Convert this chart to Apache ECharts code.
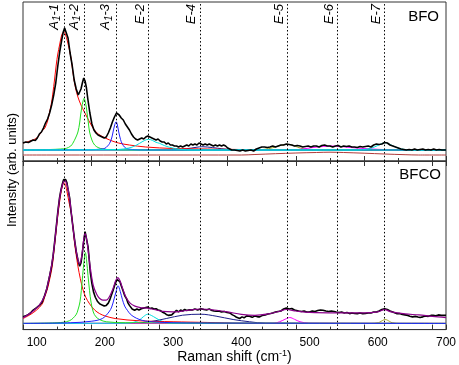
<!DOCTYPE html>
<html>
<head>
<meta charset="utf-8">
<script src="https://cdn.jsdelivr.net/npm/echarts@6/dist/echarts.min.js"></script>
<style>html,body{margin:0;padding:0;background:#fff}#c{width:459px;height:365px}</style>
</head>
<body>
<div id="c"></div>
<script>
// ---- x-axis ticks & mode positions ----
const xTicks = [100, 200, 300, 400, 500, 600, 700];
const modePositions = [141, 170, 216, 264, 340, 468, 541, 610];
const modeLabels = ['A{s|1}-1', 'A{s|1}-2', 'A{s|1}-3', 'E-2', 'E-4', 'E-5', 'E-6', 'E-7'];
const panelNames = ['BFO', 'BFCO'];

// ---- BFO (top panel) ----
const bfoSpectrum = [[80,18],[84,19],[88,18.5],[92,20],[95,21],[98,20.5],[101,23],[104,27],[107,29],[110,33],[113,38],[116,42],[119,48],[122,56],[125,66],[128,78],[131,95],[134,110],[137,122],[139,129],[141,133],[143,131],[146,123],[149,108],[152,96],[155,81],[158,72],[161,66],[163,67],[165,72],[167,78],[169,83],[171,80],[173,73],[175,62],[178,48],[181,37],[184,31],[187,28],[190,26],[193,25],[196,24],[199,23],[202,24],[205,28],[208,33],[211,39],[214,44],[217,48],[219,48],[221,46],[224,43],[227,41],[230,37],[233,34],[236,31],[239,27],[242,24],[245,22],[248,21],[251,22],[254,23],[257,22],[260,24],[263,25],[266,24],[269,23],[272,22],[275,21],[278,22],[281,20],[284,19],[287,19],[290,17],[293,18],[296,16],[299,16],[302,15],[305,15],[308,14],[311,15],[314,14],[317,15],[320,16],[323,15],[326,17],[329,16],[332,17],[335,16],[338,18],[341,17],[344,16],[347,17],[350,16],[353,17],[356,16],[359,15],[362,16],[365,15],[368,16],[371,15],[374,16],[377,15],[380,13],[383,12],[386,11],[390,11],[394,10.5],[398,10],[402,11],[406,10],[410,10.5],[414,11],[418,10],[422,12],[426,13],[430,14],[434,14],[438,13.5],[442,14],[446,15],[450,14],[454,15],[458,16],[462,16],[466,17],[470,16.5],[474,16],[478,15],[482,15.5],[486,15],[490,14],[494,14.5],[498,15],[502,14],[506,15],[510,15],[514,14],[518,15.5],[522,16],[526,15],[530,15],[534,14],[538,15],[542,15.5],[546,14],[550,15],[554,14.5],[558,15],[562,14],[566,14],[570,13.5],[574,14.5],[578,14],[582,14.5],[586,15],[590,14],[594,16],[598,17],[602,16.5],[606,17],[610,18.5],[614,18],[618,16],[622,15],[626,14],[630,13],[634,12],[638,11.5],[642,11],[646,11.5],[650,11],[654,12],[658,11],[662,11.5],[666,12],[670,11],[674,11.5],[678,11],[682,12],[686,11],[690,11.5],[694,11],[698,11],[700,11]];
const bfoRed = [[80,18],[90,20],[100,23],[108,30],[112,33],[116,40],[119,49],[122,59],[124,69],[126,80],[128.7,96],[131,107],[133.6,116],[136,124],[138,128],[140,129],[142,127],[145,120],[149,108],[151,100],[153.7,86],[157,73],[160.5,64],[165,56],[170,49],[173,45],[180,36],[187,29],[195,25],[207,21],[220,18],[236,16],[260,14],[300,12.5],[350,12],[400,11.5],[500,11],[700,11]];
const bfoGreen = [[80,11],[120,11.5],[135,12],[143.5,12.7],[150,15],[153,17.7],[157,23],[160.5,29],[163,38],[164.4,46],[166,53],[168,60],[169.5,62.7],[171,60],[173,53],[174.3,46],[176,37],[177.6,29],[181,21],[185,16],[190,13.5],[197,12],[210,11.3],[250,11],[700,11]];
const bfoBlue = [[80,11],[180,11.3],[195,12],[200,12.7],[204,15],[207,17.7],[210,23],[212,29],[214,35],[216.5,39.3],[218,37],[220.3,29],[222,24],[224,19.3],[227,15.5],[231,12.7],[240,11.5],[260,11],[700,11]];
const bfoCyan = [[80,11],[220,11.5],[235,13],[241.5,14.3],[251,17.7],[258,20.5],[264,21.7],[270,20.5],[275,18.7],[280,17.7],[287,15.5],[295,13.7],[309.5,11.7],[330,11],[700,11]];
const bfoNavy = [[80,11],[300,11.3],[320,12.3],[335,13.8],[342,14.3],[350,14],[365,12.8],[378,11.8],[400,11.2],[700,11]];
const bfoOlive = [[80,11],[420,11],[440,12.3],[452,14.5],[460,16],[467,16.7],[474,16],[482,14],[492,12],[510,11],[700,11]];
const bfoMagenta = [[80,11],[470,11],[490,12],[505,13.5],[520,14.5],[532,15],[545,14.5],[560,13.5],[580,12.5],[600,11.7],[620,11.2],[640,11],[700,11]];
const bfoCyan2 = [[80,11],[570,11],[585,12],[595,14],[603,16.5],[611,18.3],[618,16.5],[626,14],[635,12],[650,11],[700,11]];
const bfoBrown = [[80,6],[400,6],[420,6.5],[450,7.3],[480,8],[510,8.5],[530,8.8],[550,8.5],[580,7.8],[610,7],[640,6.3],[660,6],[700,6]];

// ---- BFCO (bottom panel) ----
const bfcoSpectrum = [[80,13],[84,14],[88,15.5],[91,17],[94.5,19.7],[97,21],[100,22.5],[104,24.7],[108,28],[111.7,34.7],[115,42],[119,54.7],[122,65],[124,74.7],[126,87],[128.7,104.7],[131,120],[133.6,134.7],[135.5,142],[137.5,148],[139.5,153],[141,154.7],[142.5,153],[144.4,149.7],[146,143],[148.3,134.7],[150.5,120],[153.2,104.7],[155.5,92],[158,79.7],[160.5,71],[163,64.7],[165,68],[167,78],[169,90],[171,100],[172.5,99],[175.3,84.7],[177,72],[178.7,58],[181,47],[183.5,38],[186,33],[189,29],[192.3,26.3],[196,25],[199,24],[202,24.7],[205,27],[207,30],[209.4,34.7],[212,40],[215.7,48],[218,51],[220,53],[222,49],[224,44.7],[226,41],[229,34.7],[232,31],[234,27],[236,24.7],[240,21],[243.6,19.7],[247,21],[250,20],[253.4,21.3],[256,22],[260,22.5],[263,23],[266,21.5],[269,22],[272,21],[275,21.3],[278,20],[281,19.5],[284,18],[287,17],[290,15.5],[293,14.5],[295,13.7],[298,15],[301,17],[305,19.7],[308,18],[311,20],[314,19],[317,20.5],[320,19.5],[324,20.3],[328,20],[332,21],[336,20],[341,21.3],[345,20.5],[349,20],[353,21],[357,19.5],[360,19],[363,18.7],[367,19],[371,18],[375,18.5],[379,17.5],[383,17],[387,15],[390,14],[393,12.5],[397.6,11.3],[401,13],[404,12],[408,14],[412,13.7],[416,12.5],[420,14],[424,13],[427,13],[431,14.5],[435,15],[439,16],[443,16.5],[446,17],[450,18],[454,18.5],[458,19],[462,21],[466,22],[470,21],[474,21.5],[478,20],[480.6,19.7],[484,19],[488,18.5],[492,19],[496,18],[500,18],[504,19],[508,18.5],[512,19.5],[516,20],[519.6,19.7],[524,19],[528,18.5],[532,19],[536,18.5],[539,18],[543,17.5],[547,18],[551,17],[555,17.5],[558.7,16.3],[562,17],[566,16.5],[570,16.3],[574,17],[578,16.3],[582,16.5],[586,17],[590,17],[594,18],[598,18],[602,19],[606,20.5],[610,21.3],[614,20.5],[618,19],[622,18],[627.6,16.3],[632,16.5],[636,15.5],[640,15],[644,14.5],[647,13.7],[651,13],[655,13.5],[659,12.8],[662,12.3],[666,13],[670,14],[674,13.5],[678,14.5],[681,14.7],[685,14],[689,15],[693,14.5],[698,14.7],[700,14.5]];
const bfcoFit = [[80,12],[95,19],[104,25],[112,35],[119,55],[124,75],[128.7,104],[133.6,134],[137.5,147],[141,152],[144.4,148],[148.3,134],[153.2,104],[158,80],[161,70],[163,67],[166,75],[169,92],[171,98],[173,93],[175.3,82],[178.7,63],[183,45],[188,36],[192,32],[197,30],[202,30],[207,34],[212,42],[216,50],[219,53],[222,50],[226,42],[231,33],[237,27],[244,24],[252,22.5],[262,22],[272,20.5],[285,18.5],[300,18],[320,19.5],[341,21],[360,20],[380,18],[400,15.5],[420,14.5],[440,16],[455,18.5],[466,20.5],[480,19],[500,17.5],[540,17],[580,17],[600,18],[610,20.3],[620,18],[640,16],[660,15],[680,13.5],[700,12.3]];
const bfcoRed = [[80,11.3],[90,15],[99.5,19.7],[108,26],[111.7,33],[116,42],[119,51],[122,61],[124,71],[126,84],[128.7,101],[131,116],[133.6,130],[136,141],[138.5,148],[140.5,149.7],[142.5,147],[144.4,141],[148,128],[151,118],[153.5,103],[155.6,88],[158,76],[160.5,64.7],[164,52],[167.7,41.3],[172,33],[177.6,26.3],[185,20],[192.3,16.3],[200,14],[215,11.3],[250,9],[300,8],[350,7.3],[400,6.5],[700,6.3]];
const bfcoGreen = [[80,6.3],[130,7],[147.9,9],[157.6,15],[160.5,20],[163.5,28.3],[165.5,40],[167.4,55],[169.5,70],[171.4,78.7],[173.3,70],[175.3,55],[177.5,40],[179.7,28],[183,18],[187,13],[193,10],[202,8],[230,7],[700,6.3]];
const bfcoBlue = [[80,6.3],[150,7],[180,8.5],[196.3,11.3],[206,18],[210,23],[213.5,31.3],[216.5,39],[219.3,44.7],[222.5,39],[225.6,31],[229,24],[233,19.7],[237,16],[242.6,13],[250,10.5],[259.6,8.7],[280,7.5],[320,6.8],[700,6.3]];
const bfcoCyan = [[80,6.3],[230,6.5],[241.5,7.3],[251,10],[257,13.5],[263,15.7],[268,14.5],[275,11.7],[280,9.7],[288,7.5],[295,6.5],[700,6.3]];
const bfcoNavy = [[80,6.3],[240,6.5],[265.6,8],[290,11.3],[314,14.7],[341,15.7],[363,13.7],[388,10.3],[412,8],[436,6.5],[700,6.3]];
const bfcoMagenta = [[80,6.3],[446,6.3],[456,8],[464,10.5],[471,12.3],[478,10.5],[486,8],[500,6.5],[700,6.3]];
const bfcoOlive = [[80,6.3],[590,6.3],[601,7],[605,8.5],[611,10.3],[617,8.5],[621,7],[632,6.3],[700,6.3]];

const FONT = 'Liberation Sans, Arial, sans-serif';

function comp(data, color, grid, w) {
  return { type: 'line', data: data, xAxisIndex: grid, yAxisIndex: grid, showSymbol: false, symbol: 'none',
    smooth: 0.35, lineStyle: { color: color, width: w || 1 }, silent: true, z: 2 };
}
function vlines(withLabels) {
  return {
    silent: true, symbol: 'none',
    lineStyle: { type: [1.5, 2.2], color: '#000', width: 1 },
    label: withLabels ? {
      show: true, position: 'insideEndTop', distance: 2,
      formatter: p => modeLabels[p.dataIndex],
      fontFamily: FONT, fontSize: 13, fontStyle: 'italic', color: '#000',
      rich: { s: { fontSize: 10, fontStyle: 'italic', fontFamily: FONT, verticalAlign: 'bottom', padding: [6,0,0,0] } }
    } : { show: false },
    data: modePositions.map(v => ({ xAxis: v }))
  };
}

const xBase = {
  type: 'value', min: 80, max: 700, interval: 100,
  axisLine: { show: true, lineStyle: { color: '#333', width: 1 } },
  axisTick: { show: true, inside: true, length: 5, lineStyle: { color: '#333' } },
  minorTick: { show: true, splitNumber: 2, length: 3, lineStyle: { color: '#333' } },
  splitLine: { show: false },
};

const chart = echarts.init(document.getElementById('c'), null, { renderer: 'canvas' });
chart.setOption({
  animation: false,
  backgroundColor: '#fff',
  title: [
    { text: panelNames[0], right: 20, top: 9, padding: 0, textStyle: { fontFamily: FONT, fontSize: 15, fontWeight: 'normal', color: '#000' } },
    { text: panelNames[1], right: 18, top: 167, padding: 0, textStyle: { fontFamily: FONT, fontSize: 15, fontWeight: 'normal', color: '#000' } }
  ],
  grid: [
    { left: 23, right: 13, top: 2, height: 159, show: true, borderColor: '#333', borderWidth: 1 },
    { left: 23, right: 13, top: 161, height: 172, show: true, borderColor: '#333', borderWidth: 1 }
  ],
  xAxis: [
    Object.assign({}, xBase, { gridIndex: 0, axisLabel: { show: false } }),
    Object.assign({}, xBase, { gridIndex: 1,
      axisLabel: { show: true, fontFamily: FONT, fontSize: 12, color: '#000', margin: 7, customValues: xTicks },
      name: 'Raman shift (cm{sup|-1})', nameLocation: 'middle', nameGap: 17,
      nameTextStyle: { fontFamily: FONT, fontSize: 14, color: '#000', rich: { sup: { fontSize: 9, fontFamily: FONT, verticalAlign: 'top', padding: [0,0,6,0] } } } }),
    Object.assign({}, xBase, { gridIndex: 1, position: 'top', axisLabel: { show: false } })
  ],
  yAxis: [
    { type: 'value', gridIndex: 0, min: 0, max: 159, show: false },
    { type: 'value', gridIndex: 1, min: 0, max: 172, show: false }
  ],
  graphic: [{
    type: 'text', x: 12, y: 170, rotation: Math.PI / 2,
    style: { text: 'Intensity (arb. units)', font: '13px ' + FONT, fill: '#000', textAlign: 'center', textVerticalAlign: 'middle' }
  }],
  series: [
    comp(bfoBrown, '#b03a3a', 0),
    comp(bfoNavy, '#1c1c8a', 0),
    comp(bfoOlive, '#a3a324', 0),
    comp(bfoMagenta, '#ff00ff', 0),
    comp(bfoRed, '#ff0000', 0),
    comp(bfoGreen, '#22e022', 0),
    comp(bfoBlue, '#2020ff', 0),
    comp(bfoCyan2, '#00d8d8', 0),
    comp(bfoCyan, '#00e0e0', 0),
    { type: 'line', data: bfoSpectrum, xAxisIndex: 0, yAxisIndex: 0, symbol: 'none', showSymbol: false,
      lineStyle: { color: '#000', width: 1.6 }, z: 3, silent: true, markLine: vlines(true) },

    comp(bfcoOlive, '#a3a324', 1),
    comp(bfcoNavy, '#1c1c8a', 1),
    comp(bfcoMagenta, '#ff00ff', 1),
    comp(bfcoCyan, '#00e0e0', 1),
    comp(bfcoRed, '#ff0000', 1),
    comp(bfcoGreen, '#22e022', 1),
    comp(bfcoBlue, '#2020ff', 1),
    { type: 'line', data: bfcoSpectrum, xAxisIndex: 1, yAxisIndex: 1, symbol: 'none', showSymbol: false,
      lineStyle: { color: '#000', width: 1.6 }, z: 3, silent: true, markLine: vlines(false) },
    Object.assign(comp(bfcoFit, '#8a008a', 1, 1.2), { z: 4 })
  ]
});
</script>
</body>
</html>
